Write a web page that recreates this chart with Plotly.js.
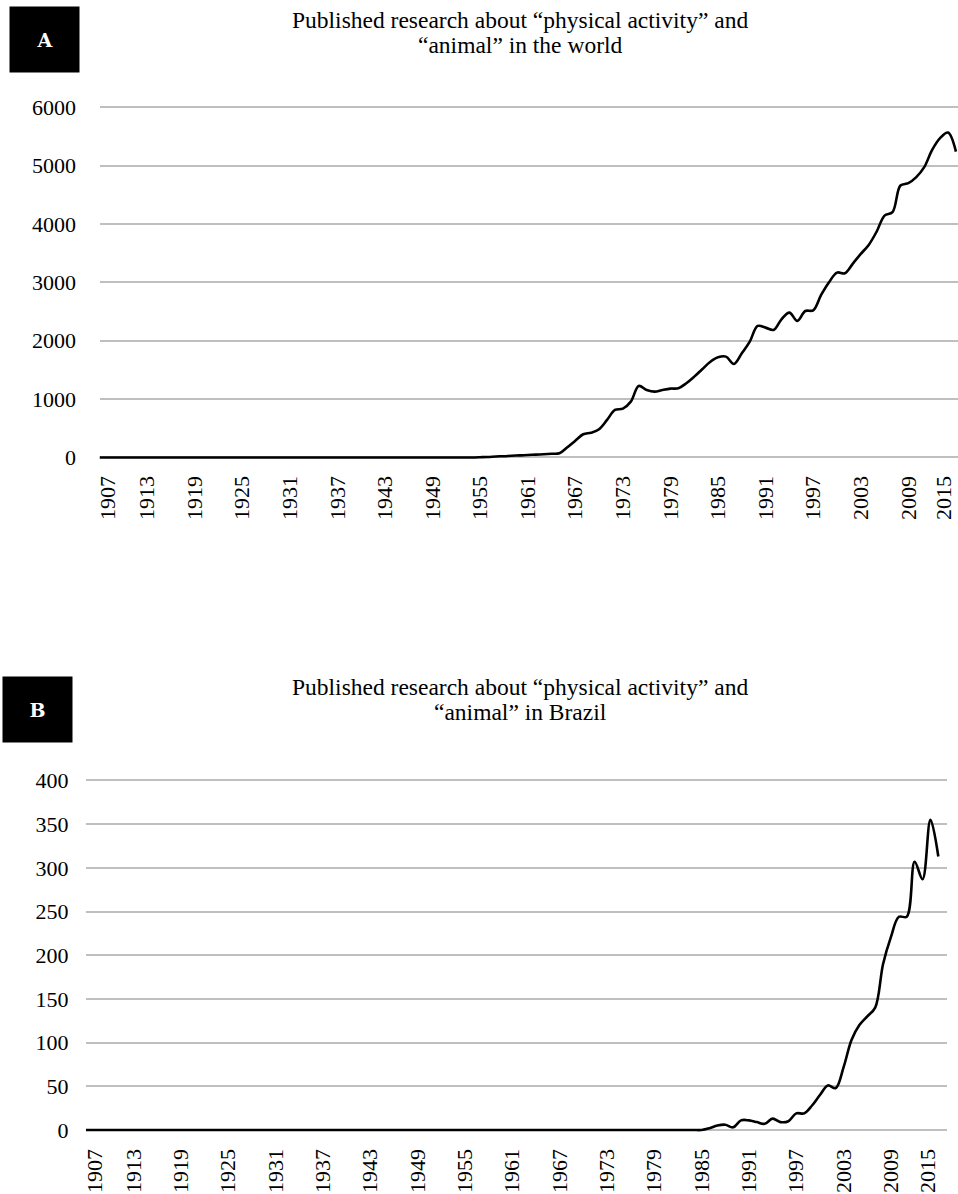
<!DOCTYPE html>
<html>
<head>
<meta charset="utf-8">
<script src="https://cdn.plot.ly/plotly-3.0.1.min.js"></script>
<style>
html, body { margin: 0; padding: 0; background: #ffffff; }
#chart { width: 958px; height: 1194px; }
</style>
</head>
<body>
<div id="chart"></div>
<script>
// ---------- DATA ----------
const years = [];
for (let y = 1907; y <= 2015; y++) years.push(y);

// Publications per year, world (1907 ... 2015)
const worldCounts = [
  0,0,0,0,0,0,0,0,0,0,            // 1907-1916
  0,0,0,0,0,0,0,0,0,0,            // 1917-1926
  0,0,0,0,0,0,0,0,0,0,            // 1927-1936
  0,0,0,0,0,0,0,0,0,0,            // 1937-1946
  0,0,0,0,0,0,0,0,                // 1947-1954
  4,9,17,22,30,35,43,48,56,63,    // 1955-1964
  72,175,288,397,425,483,643,814,837,957,        // 1965-1974
  1225,1157,1128,1157,1180,1186,1272,1385,1512,1637, // 1975-1984
  1717,1728,1603,1786,1985,2254,2225,2185,2368,2482, // 1985-1994
  2340,2510,2520,2785,3003,3168,3157,3322,3488,3642, // 1995-2004
  3870,4145,4203,4660,4700,4803,4974,5270,5471,5567, // 2005-2014
  5240                                              // 2015
];

// Publications per year, Brazil (1907 ... 2015)
const brazilCounts = [
  0,0,0,0,0,0,0,0,0,0,            // 1907-1916
  0,0,0,0,0,0,0,0,0,0,            // 1917-1926
  0,0,0,0,0,0,0,0,0,0,            // 1927-1936
  0,0,0,0,0,0,0,0,0,0,            // 1937-1946
  0,0,0,0,0,0,0,0,0,0,            // 1947-1956
  0,0,0,0,0,0,0,0,0,0,            // 1957-1966
  0,0,0,0,0,0,0,0,0,0,            // 1967-1976
  0,0,0,0,0,0,0,0,0,              // 1977-1985
  2,5,6,3,11,11,9,7,13,9,         // 1986-1995
  10,19,19,28,40,51,48,72,103,120,// 1996-2005
  130,140,190,221,244,244,307,287,355,313 // 2006-2015
];

const tickYears = [1907,1913,1919,1925,1931,1937,1943,1949,1955,1961,1967,1973,1979,1985,1991,1997,2003,2009,2015];
const tickLabels = tickYears.map(String);
const worldTicks = [0,1000,2000,3000,4000,5000,6000];
const brazilTicks = [0,50,100,150,200,250,300,350,400];

const titleA = ['Published research about “physical activity” and', '“animal” in the world'];
const titleB = ['Published research about “physical activity” and', '“animal” in Brazil'];
const panelLabels = ['A', 'B'];

// ---------- LAYOUT HELPERS ----------
const W = 958, H = 1194;
const fx = p => p / W;
const fy = p => 1 - p / H;

const serif = 'Liberation Serif, Times New Roman, serif';
const tickFont = { family: serif, size: 22, color: '#000000' };
const titleFont = { family: serif, size: 23.5, color: '#000000' };

// Plot geometry (pixels)
const geomA = { left: 99.5, right: 958, xmin: 1907, xmax: 2015.26, edgeIn: [8.5, 12.5] };
const geomB = { left: 86, right: 947, xmin: 1907, xmax: 2016.1, edgeIn: [9, 10] };

// Excel pulls the first and last category labels slightly inward; mimic that (label placement only)
function labelPositions(g) {
  const ppy = (g.right - g.left) / (g.xmax - g.xmin);
  return tickYears.map((y, i) => {
    if (i === 0) return y + g.edgeIn[0] / ppy;
    if (i === tickYears.length - 1) return y - g.edgeIn[1] / ppy;
    return y;
  });
}

const lineStyle = { color: '#000000', width: 2.6, shape: 'spline', smoothing: 1 };

const traces = [
  { x: years, y: worldCounts, type: 'scatter', mode: 'lines', line: lineStyle,
    xaxis: 'x', yaxis: 'y', hoverinfo: 'x+y', showlegend: false },
  { x: years, y: brazilCounts, type: 'scatter', mode: 'lines', line: lineStyle,
    xaxis: 'x2', yaxis: 'y2', hoverinfo: 'x+y', showlegend: false }
];

const xCommon = {
  tickmode: 'array', ticktext: tickLabels,
  tickangle: -90, tickfont: tickFont,
  ticks: 'outside', tickcolor: 'rgba(0,0,0,0)',
  showgrid: false, zeroline: false, showline: false, automargin: false, fixedrange: true
};
const yCommon = {
  tickmode: 'array', tickfont: tickFont,
  ticks: 'outside', tickcolor: 'rgba(0,0,0,0)',
  showgrid: true, gridcolor: '#bfbfbf', gridwidth: 2,
  zeroline: false, showline: false, automargin: false, fixedrange: true
};

const boxAnn = (label, cx, cy) => ({
  xref: 'paper', yref: 'paper', x: fx(cx), y: fy(cy), xanchor: 'center', yanchor: 'middle',
  text: '<b>' + label + '</b>', showarrow: false, bgcolor: '#000000',
  width: 69, height: 65, borderpad: 0, align: 'center', valign: 'middle',
  font: { family: 'DejaVu Serif, serif', size: 19, color: '#ffffff' }
});
const titleAnn = (text, cy) => ({
  xref: 'paper', yref: 'paper', x: fx(520), y: fy(cy), xanchor: 'center', yanchor: 'middle',
  text: text, showarrow: false, font: titleFont, borderpad: 0
});

const layout = {
  width: W, height: H,
  margin: { l: 0, r: 0, t: 0, b: 0 },
  paper_bgcolor: '#ffffff', plot_bgcolor: '#ffffff',
  showlegend: false,
  xaxis: Object.assign({}, xCommon, { domain: [fx(geomA.left), fx(geomA.right)], range: [geomA.xmin, geomA.xmax],
                                      tickvals: labelPositions(geomA), ticklen: 3, anchor: 'y' }),
  yaxis: Object.assign({}, yCommon, { domain: [fy(463.3), fy(104.4)], range: [-100, 6050], ticklen: 18,
                                      tickvals: worldTicks, ticktext: worldTicks.map(String), anchor: 'x' }),
  xaxis2: Object.assign({}, xCommon, { domain: [fx(geomB.left), fx(geomB.right)], range: [geomB.xmin, geomB.xmax],
                                       tickvals: labelPositions(geomB), ticklen: 4, anchor: 'y2' }),
  yaxis2: Object.assign({}, yCommon, { domain: [fy(1135.2), fy(777)], range: [-6, 404], ticklen: 12,
                                       tickvals: brazilTicks, ticktext: brazilTicks.map(String), anchor: 'x2' }),
  annotations: [
    titleAnn(titleA[0], 20.5), titleAnn(titleA[1], 45.5),
    titleAnn(titleB[0], 687.5), titleAnn(titleB[1], 712),
    boxAnn(panelLabels[0], 44.5, 39.5),
    boxAnn(panelLabels[1], 37.5, 709.5)
  ]
};

Plotly.newPlot('chart', traces, layout, { displayModeBar: false, staticPlot: true });
</script>
</body>
</html>
